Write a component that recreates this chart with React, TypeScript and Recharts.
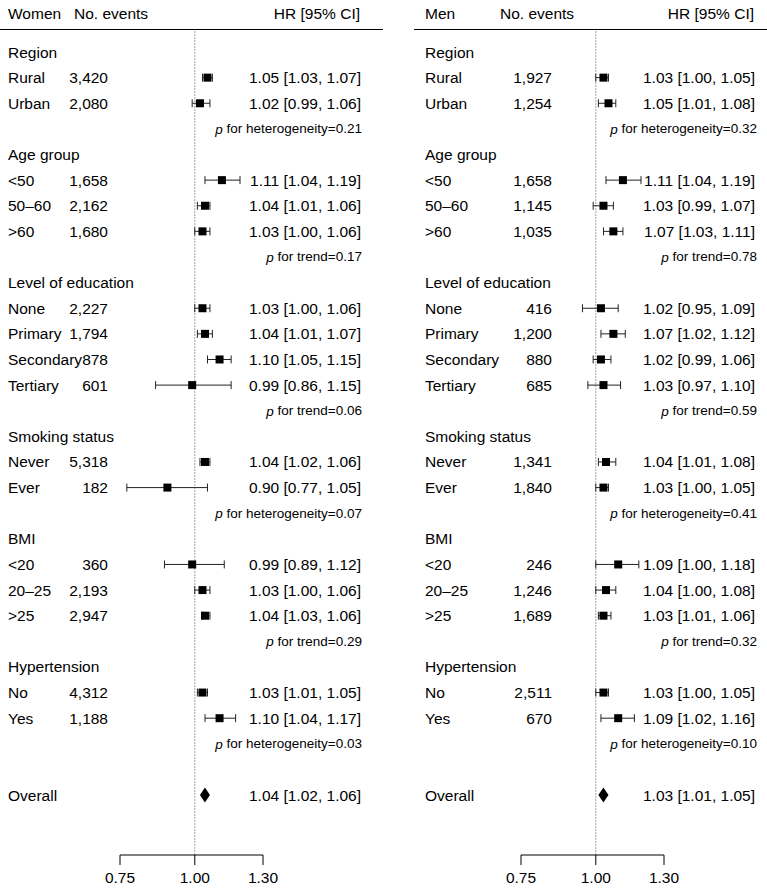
import React from 'react';
import { ComposedChart, Scatter, ErrorBar, XAxis, YAxis, ReferenceLine, ReferenceArea } from 'recharts';

// ---------- data ----------
const groupTitles = ['Region', 'Age group', 'Level of education', 'Smoking status', 'BMI', 'Hypertension'];
const groupSizes = [2, 3, 4, 2, 3, 2];
const subgroupLabels = ['Rural', 'Urban', '<50', '50–60', '>60', 'None', 'Primary', 'Secondary', 'Tertiary', 'Never', 'Ever', '<20', '20–25', '>25', 'No', 'Yes'];
const pTestTypes = ['heterogeneity', 'trend', 'trend', 'heterogeneity', 'trend', 'heterogeneity'];

const womenEvents = [3420, 2080, 1658, 2162, 1680, 2227, 1794, 878, 601, 5318, 182, 360, 2193, 2947, 4312, 1188];
const womenHR = [1.05, 1.02, 1.11, 1.04, 1.03, 1.03, 1.04, 1.10, 0.99, 1.04, 0.90, 0.99, 1.03, 1.04, 1.03, 1.10];
const womenLow = [1.03, 0.99, 1.04, 1.01, 1.00, 1.00, 1.01, 1.05, 0.86, 1.02, 0.77, 0.89, 1.00, 1.03, 1.01, 1.04];
const womenHigh = [1.07, 1.06, 1.19, 1.06, 1.06, 1.06, 1.07, 1.15, 1.15, 1.06, 1.05, 1.12, 1.06, 1.06, 1.05, 1.17];
const womenP = ['0.21', '0.17', '0.06', '0.07', '0.29', '0.03'];
const womenOverall = [1.04, 1.02, 1.06];

const menEvents = [1927, 1254, 1658, 1145, 1035, 416, 1200, 880, 685, 1341, 1840, 246, 1246, 1689, 2511, 670];
const menHR = [1.03, 1.05, 1.11, 1.03, 1.07, 1.02, 1.07, 1.02, 1.03, 1.04, 1.03, 1.09, 1.04, 1.03, 1.03, 1.09];
const menLow = [1.00, 1.01, 1.04, 0.99, 1.03, 0.95, 1.02, 0.99, 0.97, 1.01, 1.00, 1.00, 1.00, 1.01, 1.00, 1.02];
const menHigh = [1.05, 1.08, 1.19, 1.07, 1.11, 1.09, 1.12, 1.06, 1.10, 1.08, 1.05, 1.18, 1.08, 1.06, 1.05, 1.16];
const menP = ['0.32', '0.78', '0.59', '0.41', '0.32', '0.10'];
const menOverall = [1.03, 1.01, 1.05];

const xTicks = [0.75, 1.0, 1.3];

// ---------- helpers ----------
const FONT = '"Liberation Sans", Arial, Helvetica, sans-serif';
const FS = 15.5;
const FS_P = 13.5;

type Row = {
  row: number;
  kind: 'title' | 'item' | 'p' | 'blank' | 'overall';
  label?: string;
  events?: number;
  hr?: number;
  low?: number;
  high?: number;
  pType?: string;
  pValue?: string;
};

function buildRows(events: number[], hr: number[], low: number[], high: number[], pv: string[], overall: number[]): Row[] {
  const rows: any[] = [];
  let k = 0;
  groupTitles.forEach((t, g) => {
    rows.push({ kind: 'title', label: t });
    for (let i = 0; i < groupSizes[g]; i++, k++) {
      rows.push({ kind: 'item', label: subgroupLabels[k], events: events[k], hr: hr[k], low: low[k], high: high[k] });
    }
    rows.push({ kind: 'p', pType: pTestTypes[g], pValue: pv[g] });
  });
  rows.push({ kind: 'blank' });
  rows.push({ kind: 'overall', label: 'Overall', hr: overall[0], low: overall[1], high: overall[2] });
  return rows.map((r, i) => ({ ...r, row: i }));
}

const fmtCI = (r: Row) => `${r.hr!.toFixed(2)} [${r.low!.toFixed(2)}, ${r.high!.toFixed(2)}]`;

type PanelLayout = {
  title: string;
  width: number;
  left: number;
  labelX: number;
  eventsX: number;
  ciX: number;
  pX: number;
  headEventsX: number;
  headHrX: number;
  lineX0: number;
};

const TOP_ROW = -1;
const BOTTOM_ROW = 31.34;

function Square(props: any) {
  const { cx, cy } = props;
  if (cx == null || cy == null) return null;
  return <rect x={cx - 4} y={cy - 4} width={8} height={8} fill="#000" />;
}

function Diamond(props: any) {
  const { x, y, width, height } = props;
  const mx = x + width / 2;
  const my = y + height / 2;
  return <polygon points={`${x},${my} ${mx},${y} ${x + width},${my} ${mx},${y + height}`} fill="#000" />;
}

function Panel({ rows, layout }: { rows: Row[]; layout: PanelLayout }) {
  const items = rows
    .filter((r) => r.kind === 'item')
    .map((r) => ({ x: r.hr, y: r.row, err: [r.hr! - r.low!, r.high! - r.hr!] }));
  const overall = rows.find((r) => r.kind === 'overall')!;
  const H = 895;

  const renderTick = (p: any) => {
    const r = rows[Math.round(p.payload.value)];
    if (!r) return <g />;
    const y = p.y;
    const common = { fontFamily: FONT, fontSize: FS, fill: '#000', dominantBaseline: 'central' as const };
    if (r.kind === 'title') {
      return (
        <text x={layout.labelX} y={y} {...common}>
          {r.label}
        </text>
      );
    }
    if (r.kind === 'item') {
      return (
        <g>
          <text x={layout.labelX} y={y} {...common}>{r.label}</text>
          <text x={layout.eventsX} y={y} textAnchor="end" {...common}>{r.events!.toLocaleString('en-US')}</text>
          <text x={layout.ciX} y={y} textAnchor="end" {...common}>{fmtCI(r)}</text>
        </g>
      );
    }
    if (r.kind === 'p') {
      return (
        <text x={layout.pX} y={y} textAnchor="end" {...common} fontSize={FS_P}>
          <tspan fontStyle="italic">p</tspan>
          {` for ${r.pType}=${r.pValue}`}
        </text>
      );
    }
    if (r.kind === 'overall') {
      return (
        <g>
          <text x={layout.labelX} y={y} {...common}>{r.label}</text>
          <text x={layout.ciX} y={y} textAnchor="end" {...common}>{fmtCI(r)}</text>
        </g>
      );
    }
    return <g />;
  };

  return (
    <div style={{ position: 'absolute', left: layout.left, top: 0, width: layout.width, height: H }}>
      <svg width={layout.width} height={40} style={{ position: 'absolute', left: 0, top: 0 }}>
        <text x={layout.labelX} y={13} fontFamily={FONT} fontSize={FS} dominantBaseline="central">{layout.title}</text>
        <text x={layout.headEventsX} y={13} fontFamily={FONT} fontSize={FS} dominantBaseline="central">No. events</text>
        <text x={layout.headHrX} y={13} fontFamily={FONT} fontSize={FS} dominantBaseline="central" textAnchor="end">HR [95% CI]</text>
        <line x1={layout.lineX0} x2={layout.width} y1={29.5} y2={29.5} stroke="#000" strokeWidth={1} />
      </svg>
      <ComposedChart
        width={layout.width}
        height={H}
        margin={{ top: 26.4, right: layout.width - 263, bottom: 0, left: 119 }}
        style={{ position: 'absolute', left: 0, top: 0 }}
      >
        <XAxis
          dataKey="x"
          type="number"
          scale="log"
          domain={[0.75, 1.3]}
          allowDataOverflow
          ticks={xTicks}
          interval={0}
          tickFormatter={(v: number) => v.toFixed(2)}
          tickSize={10}
          tickMargin={7}
          height={40}
          stroke="#000"
          tick={{ fill: '#000', fontSize: FS, fontFamily: FONT }}
        />
        <YAxis
          dataKey="y"
          type="number"
          domain={[TOP_ROW, BOTTOM_ROW]}
          reversed
          allowDataOverflow
          width={1}
          ticks={rows.map((r) => r.row)}
          interval={0}
          axisLine={false}
          tickLine={false}
          tick={renderTick}
        />
        <ReferenceLine
          segment={[{ x: 1, y: -0.8 }, { x: 1, y: BOTTOM_ROW }]}
          stroke="#444"
          strokeDasharray="1 2"
          strokeWidth={1}
        />
        <Scatter data={items} shape={<Square />} isAnimationActive={false}>
          <ErrorBar dataKey="err" direction="x" width={4} stroke="#222" strokeWidth={1} isAnimationActive={false} />
        </Scatter>
        <ReferenceArea
          x1={overall.low}
          x2={overall.high}
          y1={overall.row - 0.29}
          y2={overall.row + 0.29}
          ifOverflow="visible"
          shape={<Diamond />}
        />
      </ComposedChart>
    </div>
  );
}

const womenRows = buildRows(womenEvents, womenHR, womenLow, womenHigh, womenP, womenOverall);
const menRows = buildRows(menEvents, menHR, menLow, menHigh, menP, menOverall);

const womenLayout: PanelLayout = {
  title: 'Women', width: 383, left: 0, labelX: 8, eventsX: 108, ciX: 361, pX: 362, headEventsX: 74, headHrX: 360, lineX0: 0,
};
const menLayout: PanelLayout = {
  title: 'Men', width: 366, left: 401, labelX: 24, eventsX: 151, ciX: 354, pX: 356, headEventsX: 99, headHrX: 353, lineX0: 13,
};

export default function App() {
  return (
    <div style={{ position: 'absolute', left: 0, top: 0, width: 767, height: 895, background: '#fff' }}>
      <Panel rows={womenRows} layout={womenLayout} />
      <Panel rows={menRows} layout={menLayout} />
    </div>
  );
}
